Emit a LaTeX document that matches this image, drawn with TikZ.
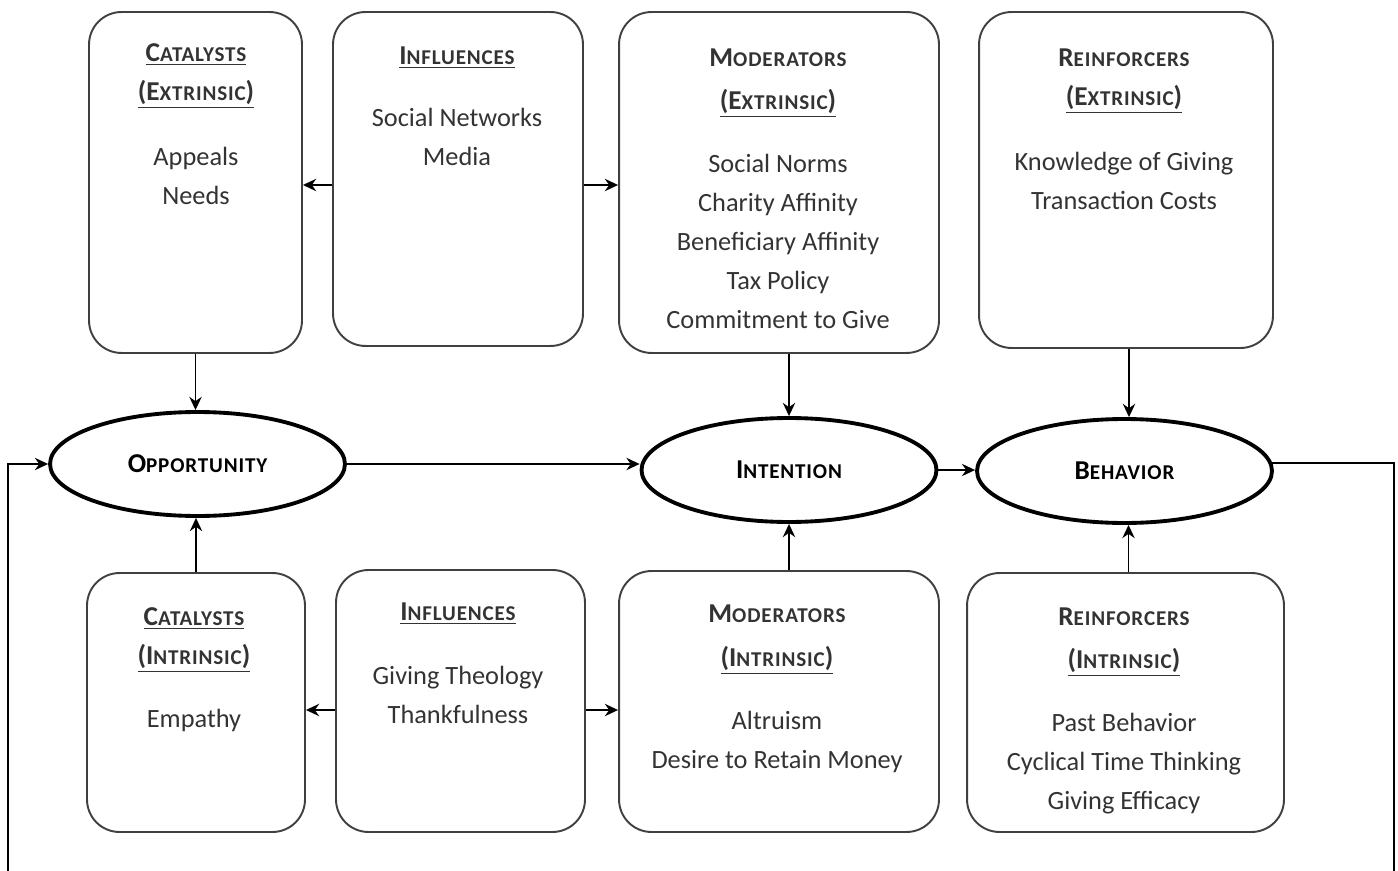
\documentclass[tikz,border=0pt]{standalone}
\usepackage{fontspec}
\setmainfont{Carlito}
\usetikzlibrary{arrows.meta,shapes.geometric}

% small caps made by hand: first letter large, rest small and spaced
\newcommand{\hsc}[2]{{\fontsize{15.5}{22.2}\selectfont #1}{\fontsize{12}{22.2}\selectfont\addfontfeature{LetterSpace=4}#2}}

\tikzset{
  box/.style={draw=black!75, line width=1.1pt, rounded corners=0.65cm, inner sep=0pt},
  boxtext/.style={anchor=north, align=center, inner sep=0pt, text=black!80,
    font=\fontsize{15}{22.2}\selectfont},
  stage/.style={draw, ellipse, line width=2.2pt, inner sep=0pt,
    minimum width=5.9cm, minimum height=2.08cm, font=\bfseries},
  link/.style={-{Stealth[length=7.5pt,width=7pt]}, line width=1.1pt}
}

\begin{document}
\begin{tikzpicture}[x=0.02cm, y=-0.02cm]
  \useasboundingbox (0,0) rectangle (1398,871);

  % Top row (extrinsic)
  \node[box, minimum width=4.26cm, minimum height=6.82cm] (catE) at (195.5,182.5) {};
  \node[box, minimum width=5.0cm, minimum height=6.68cm] (infT) at (458,179) {};
  \node[box, minimum width=6.4cm, minimum height=6.82cm] (modE) at (779,182.5) {};
  \node[box, minimum width=5.88cm, minimum height=6.72cm] (reiE) at (1126,180) {};

  \node[boxtext] (catEtext) at (196,34) {\bfseries\strut\underline{\hsc{C}{ATALYSTS}}\\
    \bfseries\underline{\hsc{(E}{XTRINSIC}\hsc{)}{}}\\[0.52cm] Appeals\\ Needs};
  \node[boxtext] (infTtext) at (457,37) {\bfseries\strut\underline{\hsc{I}{NFLUENCES}}\\[0.46cm]
    Social Networks\\ Media};
  \node[boxtext] (modEtext) at (778,39) {\bfseries\strut\hsc{M}{ODERATORS}\\[0.08cm]
    \bfseries\underline{\hsc{(E}{XTRINSIC}\hsc{)}{}}\\[0.48cm]
    Social Norms\\ Charity Affinity\\ Beneficiary Affinity\\ Tax Policy\\ Commitment to Give};
  \node[boxtext] (reiEtext) at (1124,39) {\bfseries\strut\hsc{R}{EINFORCERS}\\
    \bfseries\underline{\hsc{(E}{XTRINSIC}\hsc{)}{}}\\[0.52cm]
    Knowledge of Giving\\ Transaction Costs};

  % Stages
  \node[stage] (opp) at (197.5,464) {\hsc{O}{PPORTUNITY}};
  \node[stage] (int) at (789,470) {\hsc{I}{NTENTION}};
  \node[stage] (beh) at (1124.5,471) {\hsc{B}{EHAVIOR}};

  % Bottom row (intrinsic)
  \node[box, minimum width=4.36cm, minimum height=5.18cm] (catI) at (196,702.5) {};
  \node[box, minimum width=4.98cm, minimum height=5.24cm] (infI) at (460.5,701) {};
  \node[box, minimum width=6.4cm, minimum height=5.22cm] (modI) at (779,701.5) {};
  \node[box, minimum width=6.34cm, minimum height=5.18cm] (reiI) at (1125.5,702.5) {};

  \node[boxtext] (catItext) at (194,598) {\bfseries\strut\underline{\hsc{C}{ATALYSTS}}\\
    \bfseries\underline{\hsc{(I}{NTRINSIC}\hsc{)}{}}\\[0.48cm] Empathy};
  \node[boxtext] (infItext) at (458,593) {\bfseries\strut\underline{\hsc{I}{NFLUENCES}}\\[0.5cm]
    Giving Theology\\ Thankfulness};
  \node[boxtext] (modItext) at (777,595) {\bfseries\strut\hsc{M}{ODERATORS}\\[0.1cm]
    \bfseries\underline{\hsc{(I}{NTRINSIC}\hsc{)}{}}\\[0.48cm]
    Altruism\\ Desire to Retain Money};
  \node[boxtext] (reiItext) at (1124,598) {\bfseries\strut\hsc{R}{EINFORCERS}\\[0.08cm]
    \bfseries\underline{\hsc{(I}{NTRINSIC}\hsc{)}{}}\\[0.48cm]
    Past Behavior\\ Cyclical Time Thinking\\ Giving Efficacy};

  % Influences feed catalysts and moderators
  \draw[link] ([yshift=-0.12cm]infT.west) -- ([yshift=-0.12cm]infT.west -| catE.east);
  \draw[link] ([yshift=-0.12cm]infT.east) -- ([yshift=-0.12cm]infT.east -| modE.west);
  \draw[link] ([yshift=-0.18cm]infI.west) -- ([yshift=-0.18cm]infI.west -| catI.east);
  \draw[link] ([yshift=-0.18cm]infI.east) -- ([yshift=-0.18cm]infI.east -| modI.west);

  % Boxes into stages
  \draw[link] (catE.south) -- (catE.south |- opp.north);
  \draw[link] (catI.north) -- (catI.north |- opp.south);
  \draw[link] (int.north |- modE.south) -- (int.north);
  \draw[link] (int.south |- modI.north) -- (int.south);
  \draw[link] ([xshift=0.06cm]reiE.south) -- ([xshift=0.06cm]reiE.south |- beh.north);
  \draw[link] ([xshift=0.06cm]reiI.north |- reiI.north) -- ([xshift=0.06cm]reiI.north |- beh.south);

  % Main chain and feedback
  \draw[link] (opp.east) -- (opp.east -| int.west);
  \draw[link] (int.east) -- (int.east -| beh.west);
  \coordinate (loopR) at (1394,871);
  \coordinate (loopL) at (8,871);
  \draw[line width=1.1pt] (beh.3) -| (loopR);
  \draw[link] (loopL) |- (opp.west);
\end{tikzpicture}
\end{document}
